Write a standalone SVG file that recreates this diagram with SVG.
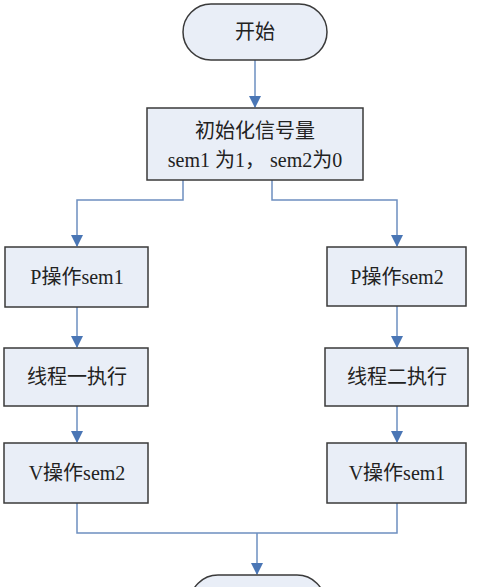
<svg xmlns="http://www.w3.org/2000/svg" width="486" height="587" viewBox="0 0 486 587">
<defs>
<style>
.box{fill:#e9eef7;stroke:#3a3a3a;stroke-width:1.5}
.t{font-family:"Liberation Serif","Noto Sans CJK SC",serif;font-size:20px;fill:#222;text-anchor:middle;dominant-baseline:central}
.c{fill:none;stroke:#6d8fc0;stroke-width:1.5}
</style>
<marker id="ah" markerWidth="12" markerHeight="12" refX="11" refY="6" orient="auto" markerUnits="userSpaceOnUse">
<path d="M0,0 L12,6 L0,12 Z" fill="#4a76b5"/>
</marker>
</defs>
<rect width="486" height="587" fill="#fff"/>
<g id="connectors">
<path class="c" d="M255,60 V107" marker-end="url(#ah)"/>
<path class="c" d="M183,180 V200 H77 V246" marker-end="url(#ah)"/>
<path class="c" d="M272,180 V200 H397 V246" marker-end="url(#ah)"/>
<path class="c" d="M77,307 V347" marker-end="url(#ah)"/>
<path class="c" d="M397,306 V347" marker-end="url(#ah)"/>
<path class="c" d="M77,406 V442" marker-end="url(#ah)"/>
<path class="c" d="M397,406 V442" marker-end="url(#ah)"/>
<path class="c" d="M77,503 V533 H397 V503"/>
<path class="c" d="M257,533 V574" marker-end="url(#ah)"/>
</g>
<g id="start">
<rect class="box" x="183" y="4" width="144" height="56" rx="28"/>
<text class="t" x="255" y="32">开始</text>
</g>
<g id="init">
<rect class="box" x="147" y="108" width="216" height="72"/>
<text class="t" x="255" y="131">初始化信号量</text>
<text class="t" x="255" y="160">sem1 为1， sem2为0</text>
</g>
<g id="p1">
<rect class="box" x="5" y="247" width="143" height="60"/>
<text class="t" x="77" y="277">P操作sem1</text>
</g>
<g id="p2">
<rect class="box" x="327" y="247" width="139" height="59"/>
<text class="t" x="397" y="277">P操作sem2</text>
</g>
<g id="t1">
<rect class="box" x="4" y="348" width="144" height="58"/>
<text class="t" x="77" y="377">线程一执行</text>
</g>
<g id="t2">
<rect class="box" x="325" y="348" width="143" height="58"/>
<text class="t" x="397" y="377">线程二执行</text>
</g>
<g id="v2">
<rect class="box" x="4" y="443" width="144" height="60"/>
<text class="t" x="77" y="473">V操作sem2</text>
</g>
<g id="v1">
<rect class="box" x="327" y="443" width="139" height="60"/>
<text class="t" x="397" y="473">V操作sem1</text>
</g>
<g id="end">
<rect class="box" x="190" y="575" width="135" height="56" rx="28"/>
</g>
</svg>
